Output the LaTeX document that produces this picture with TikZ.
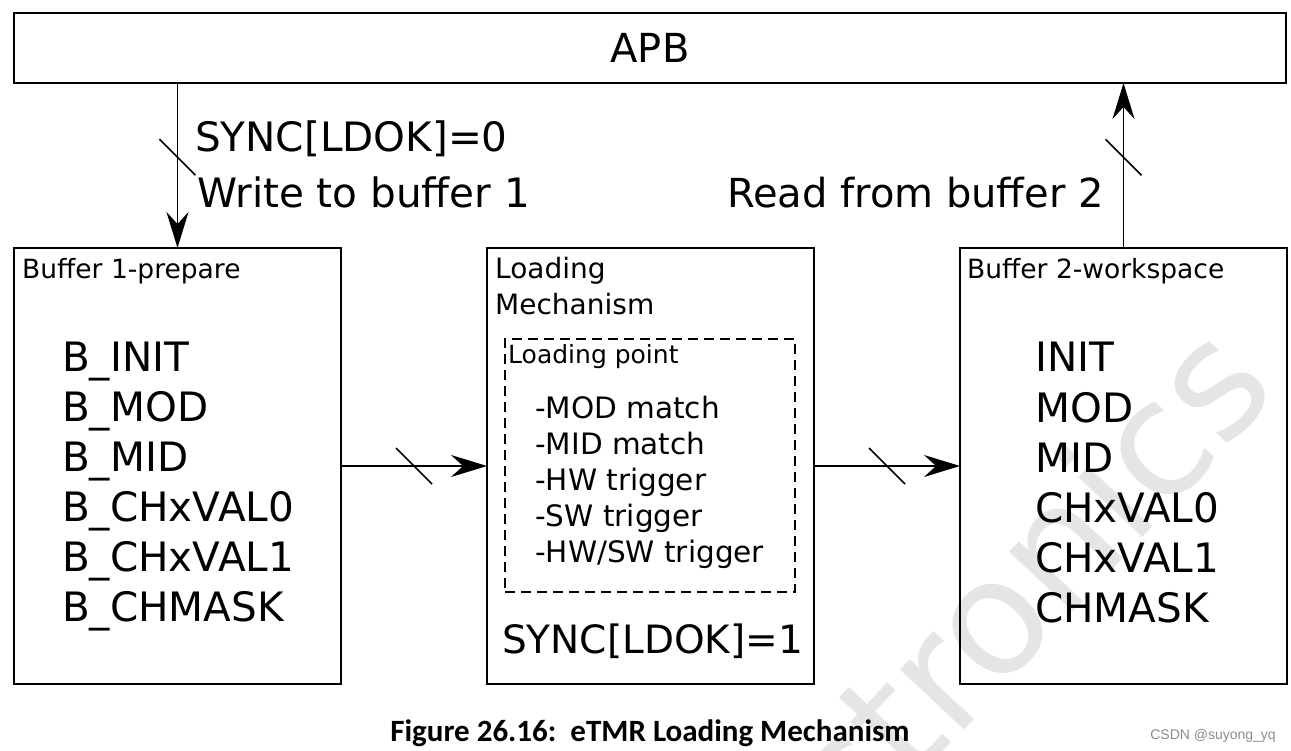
\documentclass[tikz,border=0pt]{standalone}
\usepackage{fontspec}
\setmainfont{DejaVu Sans}
\newfontfamily\capfont{Carlito}
\newfontfamily\markfont{Liberation Sans}
\usetikzlibrary{
        arrows.meta,
        calc,
        positioning
    }
\tikzset{>={Stealth[length=36pt,width=22pt,inset=12pt]},node distance=146pt}
\tikzset{
    box/.style={draw,line width=1.8pt,minimum width=327pt,minimum height=436pt,inner sep=0pt,outer sep=0pt},
    txt/.style={anchor=base west,inner sep=0pt,font=\fontsize{#1}{#1}\selectfont},
    bus/.style={->,line width=1.8pt},
    slash/.style={line width=1.5pt}
}

\begin{document}
\begin{tikzpicture}[x=1pt,y=-1pt]
        \useasboundingbox (0,0) rectangle (1291,751);
        % watermark behind everything
        \begin{scope}
            \clip (0,0) rectangle (1291,751);
            \node[rotate=47,text=black!10,font=\fontsize{160}{160}\selectfont] (wm) at (1022,580) {ctronics};
        \end{scope}
        \node[draw,line width=1.8pt,minimum width=1272pt,minimum height=70pt,outer sep=0pt,font=\fontsize{40}{40}\selectfont] (apb) at (650,48) {APB};
        \node[box] (buf1) at (177.5,466) {};
        \node[box,right=of buf1] (load) {};
        \node[box,right=of load] (buf2) {};
        \node[draw,dash pattern=on 10pt off 6pt,line width=1.3pt,minimum width=290pt,minimum height=253pt] (lpt) at (650,465.5) {};
        % buffer 1
        \node[txt=26.5] (b1title) at (22,279) {Buffer 1-prepare};
        \foreach \r [count=\i from 0] in {B\_INIT,B\_MOD,B\_MID,B\_CHxVAL0,B\_CHxVAL1,B\_CHMASK}
            \node[txt=40.5] (b1r\i) at (62,371+50*\i) {\r};
        % loading mechanism
        \node[txt=28] (ldtitle) at (495,279) {Loading};
        \node[txt=28] (ldtitle2) at (495,315) {Mechanism};
        \node[txt=25] (lpttitle) at (508,363) {Loading point};
        \foreach \p [count=\i from 0] in {-MOD match,-MID match,-HW trigger,-SW trigger,-HW/SW trigger}
            \node[txt=29.5] (lp\i) at (535,418+36*\i) {\p};
        \node[txt=39] (ldok1) at (502,653) {SYNC[LDOK]=1};
        % buffer 2
        \node[txt=26.5] (b2title) at (967,279) {Buffer 2-workspace};
        \foreach \r [count=\i from 0] in {INIT,MOD,MID,CHxVAL0,CHxVAL1,CHMASK}
            \node[txt=40.5] (b2r\i) at (1035,372+50*\i) {\r};
        % connectors
        \draw[bus] (apb.south -| buf1.north) -- coordinate[pos=0.45] (s1) (buf1.north);
        \draw[bus] (buf2.north) -- coordinate[pos=0.55] (s2) (buf2.north |- apb.south);
        \draw[bus] (buf1.east) -- coordinate (s3) (load.west);
        \draw[bus] (load.east) -- coordinate (s4) (buf2.west);
        \foreach \s in {s1,s2,s3,s4}
            \draw[slash] (\s) ++(-18,-18) -- ++(36,36);
        \node[txt=40.5] (ldok0) at (195,152) {SYNC[LDOK]=0};
        \node[txt=40.5] (wr) at (197,208) {Write to buffer 1};
        \node[txt=40] (rd) at (727,208) {Read from buffer 2};
        % caption
        \node[anchor=base,inner sep=0pt,font=\capfont\bfseries\fontsize{31}{31}\selectfont] (cap) at (650,741) {Figure 26.16:\ \ eTMR Loading Mechanism};
        \node[anchor=base east,inner sep=0pt,text=black!45,font=\markfont\fontsize{14}{14}\selectfont] (csdn) at (1276,739) {CSDN @suyong\_yq};
\end{tikzpicture}
\end{document}
